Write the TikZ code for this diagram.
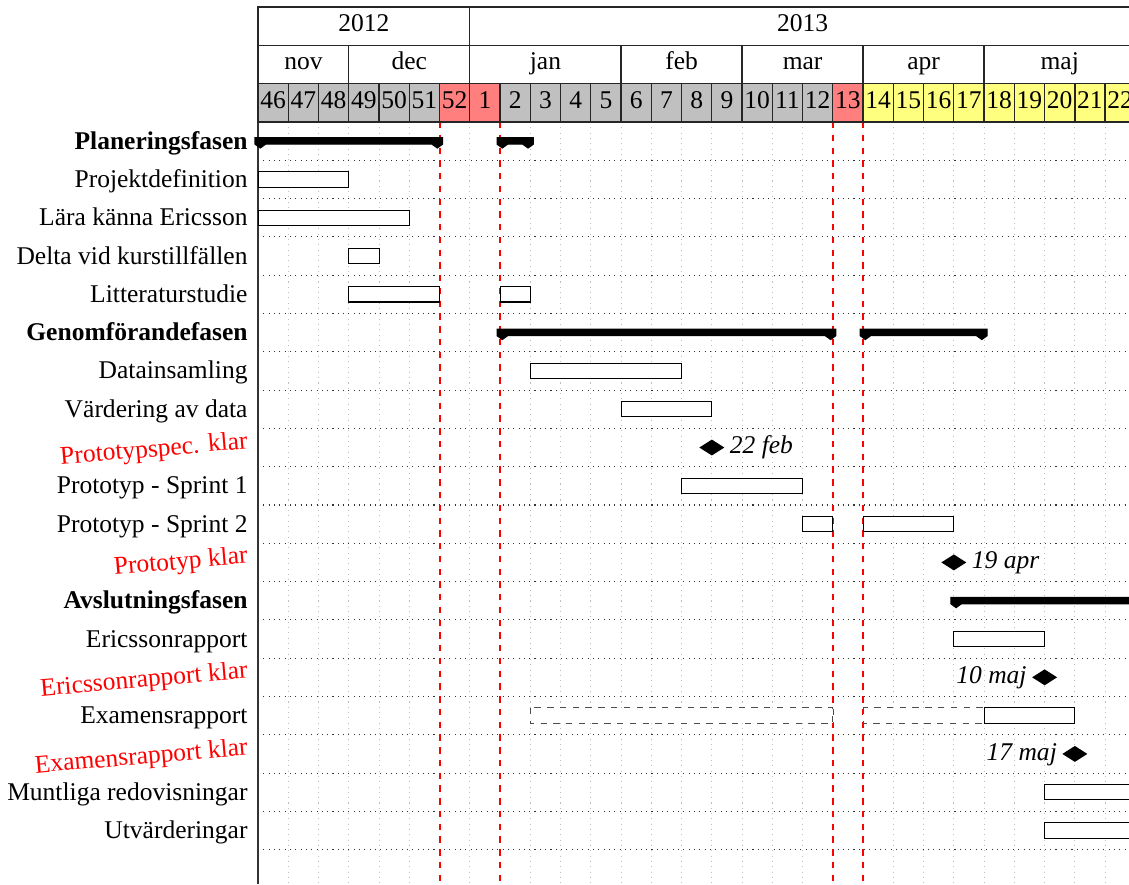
\documentclass[tikz,border=0pt]{standalone}
\usepackage{fontspec}
\setmainfont{Liberation Serif}
\usetikzlibrary{positioning, shapes.geometric}
\definecolor{cweek}{HTML}{C0C0C0}
\definecolor{choliday}{HTML}{FF7F7F}
\definecolor{cexam}{HTML}{FFFF7F}
\definecolor{cgrid}{HTML}{BDBDBD}
\tikzset{
  every picture/.style={x=0.5cm, y=0.633cm, font=\fontsize{12}{14}\selectfont, line width=0.5pt},
  cell/.style={draw=black!85, minimum width=(#1)*0.5cm, minimum height=0.633cm, inner sep=0pt, outer sep=0pt,
    line width=0.6pt, text height=1.5ex, text depth=0.4ex},
  cell/.default=1,
  tasklab/.style={anchor=east, inner sep=0pt, text height=1.55ex, text depth=0.3ex},
  grouplab/.style={tasklab, font=\fontsize{12}{14}\selectfont\bfseries},
  mslab/.style={tasklab, text=red, rotate=5},
  bar/.style={draw=black, fill=white, line width=0.5pt},
  planned/.style={draw=black!70, dashed, fill=white, line width=0.5pt},
  groupbar/.style={draw=black, fill=black, line width=0.5pt},
  milestone/.style={diamond, fill=black, minimum width=0.42cm, minimum height=0.27cm, inner sep=0pt},
  datelab/.style={font=\fontsize{12}{14}\selectfont\itshape, inner sep=2pt, text height=1.55ex, text depth=0.3ex},
  holiday/.style={draw=red, dashed, line width=0.9pt},
}

\begin{document}
\begin{tikzpicture}
  \path[use as bounding box, clip] (-8.53,-19.9) rectangle (28.79,3.185);
  % grid
  \foreach \i in {1,...,5,7,9,10,...,18,21,22,...,28} \draw[cgrid, dotted] (\i,0) -- (\i,-19.9);
  \foreach \r in {1,...,19} \draw[black!80, dotted] (0,-\r) -- (29,-\r);
  \foreach \i in {6,8,19,20} \draw[holiday] (\i,0) -- (\i,-19.9);
  \draw[black!80, line width=0.6pt] (0,3) -- (0,-19.9);
  % calendar
  \foreach \a/\b/\lab in {0/7/2012,7/29/2013}
    \node[cell=\b-\a] (y\lab) at ({(\a+\b)/2},2.5) {\lab};
  \foreach \a/\b/\lab in {0/3/nov,3/7/dec,7/12/jan,12/16/feb,16/20/mar,20/24/apr,24/29/maj}
    \node[cell=\b-\a] (m\lab) at ({(\a+\b)/2},1.5) {\lab};
  \foreach \i in {0,...,28}{
    \pgfmathtruncatemacro{\wk}{ifthenelse(\i<7,46+\i,\i-6)}
    \def\wcol{cweek}
    \ifnum\i>19 \def\wcol{cexam}\fi
    \ifnum\i=6 \def\wcol{choliday}\fi
    \ifnum\i=7 \def\wcol{choliday}\fi
    \ifnum\i=19 \def\wcol{choliday}\fi
    \node[cell, fill=\wcol] (w\i) at (\i+0.5,0.5) {\wk};
  }
  % labels
  \foreach \r/\lab in {1/Planeringsfasen,6/Genomförandefasen,13/Avslutningsfasen}
    \node[grouplab] (t\r) at (-0.33,-\r+0.45) {\lab};
  \foreach \r/\lab in {2/Projektdefinition,3/Lära känna Ericsson,4/Delta vid kurstillfällen,5/Litteraturstudie,
      7/Datainsamling,8/Värdering av data,10/Prototyp - Sprint 1,11/Prototyp - Sprint 2,
      14/Ericssonrapport,16/Examensrapport,18/Muntliga redovisningar,19/Utvärderingar}
    \node[tasklab] (t\r) at (-0.33,-\r+0.45) {\lab};
  \foreach \r/\lab in {9/Prototypspec. klar,12/Prototyp klar,15/Ericssonrapport klar,17/Examensrapport klar}
    \node[mslab] (t\r) at (-0.33,-\r+0.64) {\lab};
  % bars
  \foreach \r/\a/\b in {16/9/19,16/20/24}
    \draw[planned] (\a,-\r+0.7) rectangle (\b,-\r+0.3);
  \foreach \r/\a/\b in {2/0/3,3/0/5,4/3/4,5/3/6,5/8/9,7/9/14,8/12/15,10/14/18,11/18/19,11/20/23,
      14/23/26,16/24/27,18/26/30,19/26/30}
    \draw[bar] (\a,-\r+0.7) rectangle (\b,-\r+0.3);
  \foreach \r/\a/\b in {1/0/6,1/8/9,6/8/19,6/20/24,13/23/30}
    \filldraw[groupbar] (\a-0.1,-\r+0.59) -- (\b+0.1,-\r+0.59) -- (\b+0.1,-\r+0.42) -- (\b-0.075,-\r+0.32)
      -- (\b-0.25,-\r+0.42) -- (\a+0.25,-\r+0.42) -- (\a+0.075,-\r+0.32) -- (\a-0.1,-\r+0.42) -- cycle;
  % milestones
  \foreach \r/\m in {9/15,12/23,15/26,17/27}
    \node[milestone] (ms\r) at (\m,-\r+0.5) {};
  \node[datelab, right=0pt of ms9] (d9) {22 feb};
  \node[datelab, right=0pt of ms12] (d12) {19 apr};
  \node[datelab, left=0pt of ms15] (d15) {10 maj};
  \node[datelab, left=0pt of ms17] (d17) {17 maj};
\end{tikzpicture}
\end{document}
